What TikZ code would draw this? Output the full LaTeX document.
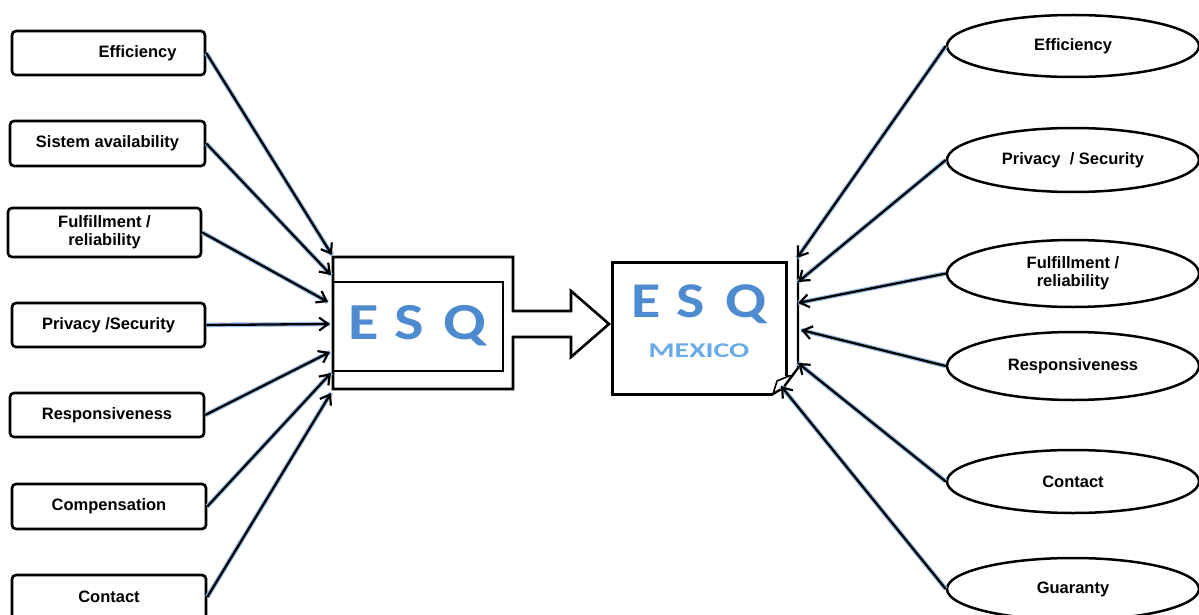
\documentclass[tikz,border=0pt]{standalone}
\usepackage{fontspec}
\setmainfont{Liberation Sans}
\newfontfamily\esqfont{Carlito}
\usetikzlibrary{shapes.geometric,arrows.meta}
\definecolor{esqblue}{RGB}{78,138,208}
\definecolor{mexblue}{RGB}{105,170,232}
\definecolor{glow}{RGB}{150,192,238}
\tikzset{
  lbox/.style={draw, line width=2.6pt, rounded corners=4pt, minimum width=193pt, minimum height=44pt, inner sep=0pt, align=center, font=\fontsize{16.5}{18}\selectfont\bfseries},
  rell/.style={draw, line width=2.5pt, ellipse, minimum width=252pt, minimum height=62pt, inner sep=0pt, align=center, font=\fontsize{16.5}{18}\selectfont\bfseries},
  conn/.style={line width=2.3pt, -{Straight Barb[length=9pt,width=13pt,line width=2.2pt]}, preaction={draw=glow, line width=4.6pt, -}},
  esqletter/.style={text=esqblue, font=\esqfont\bfseries\fontsize{52}{52}\selectfont, inner sep=0pt, anchor=base, xscale=1.2},
  frame/.style={line width=2.6pt}
}
\begin{document}
\begin{tikzpicture}[x=1pt,y=-1pt]
\useasboundingbox (0,0) rectangle (1199,615);
% left boxes
\node[lbox] (b1) at (108.5,53) {\hspace*{58pt}Efficiency};
\node[lbox, minimum width=195pt, minimum height=45pt] (b2) at (107.5,143.5) {Sistem availability};
\node[lbox, minimum height=49pt] (b3) at (104.5,232.5) {Fulfillment /\\reliability};
\node[lbox] (b4) at (108.5,325) {Privacy /Security};
\node[lbox, minimum width=194pt] (b5) at (107,415) {Responsiveness};
\node[lbox, minimum width=194pt, minimum height=45pt] (b6) at (109,506.5) {Compensation};
\node[lbox, minimum width=194pt] (b7) at (109,597) {Contact};

% left ESQ frame with arrow
\draw[frame] (333,257) -- (513,257) -- (513,311) -- (571,311) -- (571,291) -- (609,324) -- (571,357) -- (571,337) -- (513,337) -- (513,389) -- (333,389) -- cycle;
\node[draw, line width=2.6pt, minimum width=170pt, minimum height=89pt, inner sep=0pt] (lesq) at (418,326.5) {};
\node[esqletter] (lE) at (364,339) {E};
\node[esqletter] (lS) at (409,339) {S};
\node[esqletter] (lQ) at (465,339) {Q};

% right ESQ box
\draw[line width=3pt] (786,376) -- (786,262) -- (612,262) -- (612,394) -- (773,394);
\node[inner sep=0pt, minimum width=174pt, minimum height=132pt] (resq) at (699,328) {};
\draw[line width=2.4pt] (798,258) -- (798,368) -- (783,388) -- (773,394);
\draw[line width=1.6pt] (773,394) -- (777,381) -- (789,376) -- (786,376);
\node[esqletter, font=\esqfont\bfseries\fontsize{50}{50}\selectfont] (rE) at (646,317) {E};
\node[esqletter, font=\esqfont\bfseries\fontsize{50}{50}\selectfont] (rS) at (691,317) {S};
\node[esqletter, font=\esqfont\bfseries\fontsize{50}{50}\selectfont] (rQ) at (746,317) {Q};
\node[text=mexblue, font=\esqfont\bfseries\fontsize{21}{21}\selectfont, inner sep=0pt, anchor=base, xscale=1.42] (mex) at (699,357) {MEXICO};

% right ellipses
\node[rell] (e1) at (1073,46) {Efficiency};
\node[rell, minimum height=64pt] (e2) at (1073,160) {Privacy \ / Security};
\node[rell, minimum height=67pt] (e3) at (1073,273.5) {Fulfillment /\\reliability};
\node[rell, minimum height=68pt] (e4) at (1073,366) {Responsiveness};
\node[rell, minimum height=63pt] (e5) at (1073,481.5) {Contact};
\node[rell, minimum height=62pt] (e6) at (1073,589) {Guaranty};

% target coordinates on left ESQ
\coordinate (l1) at (332,255);
\coordinate (l2) at (331,275);
\coordinate (l3) at (328,302);
\coordinate (l4) at (330,324);
\coordinate (l5) at (330,352);
\coordinate (l6) at (331,373);
\coordinate (l7) at (331,393);
\foreach \i in {1,...,7} \draw[conn] (b\i.east) -- (l\i);

% target coordinates on right ESQ
\coordinate (r1) at (797,258);
\coordinate (r2) at (798,282);
\coordinate (r3) at (798,303);
\coordinate (r4) at (801,330);
\coordinate (r5) at (798,363);
\coordinate (r6) at (781,386);
\foreach \i in {1,...,6} \draw[conn] (e\i.west) -- (r\i);
\end{tikzpicture}
\end{document}
